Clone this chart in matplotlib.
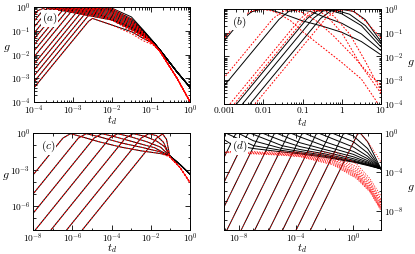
import numpy as np
import matplotlib
matplotlib.use('Agg')
import matplotlib.pyplot as plt
from matplotlib.ticker import FixedLocator, FixedFormatter, NullFormatter

plt.rcParams['mathtext.fontset'] = 'cm'
plt.rcParams['font.family'] = ['DejaVu Serif']

# All curve values are log10 exponents.

# ---- panel (a) ----
a_start_x = -4.3
a_start_g = [-0.95, -1.2, -1.45, -1.7, -1.95, -2.2, -2.45, -2.7, -3.0, -3.25, -3.5, -3.75, -4.0]
a_knee_x = [-3.9, -3.78, -3.65, -3.53, -3.4, -3.28, -3.15, -3.03, -2.88, -2.76, -2.63, -2.6, -2.6]
a_knee_g = [-0.15, -0.16, -0.15, -0.16, -0.15, -0.16, -0.15, -0.16, -0.16, -0.17, -0.16, -0.35, -0.6]
a_peak_x = [-3.7, -3.58, -3.45, -3.33, -3.2, -3.08, -2.95, -2.83, -2.68, -2.55, -2.3, -2.4, -2.5]
a_peak_g = [-0.02, -0.02, -0.02, -0.02, -0.02, -0.02, -0.02, -0.02, -0.03, -0.04, -0.04, -0.25, -0.48]
a_dec_x = [-2.0, -1.5, -1.2, -0.94]
a_dec_black = [
    [-0.55, -0.95, -1.22, -1.47], [-0.5, -0.9, -1.2, -1.47], [-0.45, -0.85, -1.18, -1.47],
    [-0.4, -0.8, -1.15, -1.47], [-0.35, -0.75, -1.12, -1.48], [-0.3, -0.7, -1.09, -1.48],
    [-0.25, -0.65, -1.06, -1.48], [-0.2, -0.6, -1.03, -1.48], [-0.15, -0.55, -1.0, -1.47],
    [-0.1, -0.5, -0.98, -1.47], [-0.05, -0.42, -0.97, -1.46], [-0.55, -0.85, -1.15, -1.5],
    [-0.76, -1.04, -1.32, -1.53]]
a_dec_red = [
    [-0.55, -1.03, -1.32, -1.56], [-0.5, -0.98, -1.3, -1.56], [-0.45, -0.93, -1.28, -1.56],
    [-0.4, -0.88, -1.25, -1.56], [-0.35, -0.83, -1.22, -1.57], [-0.3, -0.78, -1.19, -1.57],
    [-0.25, -0.73, -1.16, -1.57], [-0.2, -0.68, -1.13, -1.57], [-0.15, -0.63, -1.1, -1.56],
    [-0.1, -0.58, -1.08, -1.56], [-0.05, -0.5, -1.07, -1.55], [-0.55, -0.93, -1.25, -1.58],
    [-0.76, -1.12, -1.42, -1.6]]
a_tail_x = [-0.77, -0.34, 0.0]
a_tail_black = [-1.81, -2.72, -3.38]
a_tail_red = [-1.87, -2.98, -3.99]

# ---- panel (b) ----
b_black_x = [
    [-3.3, -2.55, -2.3, -2.05, -1.8, -1.5, -1.0, -0.5, 0.0, 0.5, 1.0],
    [-3.38, -1.6, -1.35, -1.1, -0.8, -0.5, 0.0, 0.5, 1.0],
    [-2.68, -0.88, -0.62, -0.35, 0.0, 0.5, 1.0],
    [-2.53, -0.73, -0.47, -0.2, 0.2, 0.6, 1.0],
    [-2.34, -0.54, -0.28, 0.0, 0.3, 0.6, 1.0]]
b_black_g = [
    [-1.95, -0.45, -0.12, -0.01, -0.04, -0.2, -0.5, -0.72, -0.98, -1.37, -1.93],
    [-4.0, -0.44, -0.1, -0.03, -0.1, -0.3, -0.6, -1.05, -1.75],
    [-4.0, -0.4, -0.08, -0.03, -0.2, -0.7, -1.6],
    [-4.0, -0.4, -0.08, -0.03, -0.22, -0.7, -1.47],
    [-4.0, -0.4, -0.08, -0.02, -0.1, -0.45, -1.38]]
b_red_x = [
    [-3.3, -2.6, -2.35, -2.1, -1.85, -1.62, -1.3, -1.0, -0.5, 0.0, 0.5, 0.85, 1.0],
    [-3.55, -1.75, -1.5, -1.25, -1.0, -0.6, -0.2, 0.3, 0.7, 1.0],
    [-2.85, -1.05, -0.8, -0.6, -0.35, 0.0, 0.5, 1.0],
    [-2.74, -0.94, -0.68, -0.45, -0.2, 0.2, 0.6, 1.0],
    [-2.21, -0.41, -0.15, 0.1, 0.3, 0.6, 1.0]]
b_red_g = [
    [-1.85, -0.45, -0.12, -0.02, -0.05, -0.18, -0.5, -0.95, -1.6, -2.25, -2.95, -3.8, -4.2],
    [-4.0, -0.4, -0.1, -0.03, -0.15, -0.55, -1.15, -2.0, -2.75, -3.2],
    [-4.0, -0.4, -0.08, -0.05, -0.35, -1.0, -2.4, -3.55],
    [-4.0, -0.4, -0.08, -0.04, -0.3, -1.05, -2.2, -3.45],
    [-4.0, -0.4, -0.08, -0.02, -0.1, -0.5, -1.22]]

# ---- panel (c) ----
c_start_x = [-10.79, -10.0, -9.2, -8.4, -7.6, -6.8, -6.0]
c_start_g = -9.0
c_knee_x = [-6.49, -5.7, -4.9, -4.1, -3.3, -2.5, -1.7]
c_knee_g = -0.4
c_peak_x = [-6.1, -5.3, -4.5, -3.7, -2.9, -2.1, -1.4]
c_peak_g = [-0.03, -0.03, -0.03, -0.03, -0.03, -0.03, -0.05]
c_dec_x = [[-5.5, -4.6, -3.5, -2.5, -1.5], [-4.6, -3.5, -2.5, -1.6], [-3.8, -2.8, -1.8],
           [-3.0, -2.2, -1.5], [-2.3, -1.7, -1.3], [-1.7, -1.35], [-1.2]]
c_dec_g = [[-0.3, -0.72, -1.15, -1.45, -1.68], [-0.3, -0.8, -1.15, -1.5], [-0.3, -0.75, -1.2],
           [-0.3, -0.7, -1.15], [-0.25, -0.65, -1.1], [-0.2, -0.75], [-0.5]]
c_tail_x = [-1.03, -0.5, 0.0]
c_tail_black = [-1.87, -2.6, -3.39]
c_tail_red = [-1.95, -2.85, -4.08]

# ---- panel (d) ----
d_start_x = [-13.42, -12.57, -11.72, -10.87, -10.02, -9.02, -8.02, -7.07, -6.07, -5.12, -4.17, -3.17]
d_start_g = -10.5
d_knee_x = [-9.95, -9.1, -8.25, -7.4, -6.55, -5.55, -4.55, -3.6, -2.6, -1.65, -0.7, 0.3]
d_knee_g = -0.1
d_peak_x = [-9.75, -8.9, -8.05, -7.2, -6.35, -5.35, -4.35, -3.4, -2.4, -1.45, -0.5, 0.5]
d_peak_g = -0.03
d_bcols = [-8.5, -7.0, -5.0, -3.74, -2.0, 0.0, 1.0]
d_black_dec = [
    [-1.2, -1.6, -1.95, -2.15, -2.5, -3.0, -3.35],
    [-0.3, -1.3, -1.8, -2.05, -2.4, -2.95, -3.3],
    [None, -0.8, -1.6, -1.9, -2.3, -2.9, -3.25],
    [None, None, -1.3, -1.7, -2.15, -2.8, -3.2],
    [None, None, -0.8, -1.4, -1.95, -2.65, -3.1],
    [None, None, None, -1.0, -1.7, -2.45, -3.0],
    [None, None, None, -0.4, -1.35, -2.2, -2.85],
    [None, None, None, None, -0.9, -1.9, -2.65],
    [None, None, None, None, None, -1.45, -2.4],
    [None, None, None, None, None, -0.9, -2.05],
    [None, None, None, None, None, -0.3, -1.6],
    [None, None, None, None, None, None, -0.9]]
d_black_end = [1.94, -3.7]
d_red_knee_x = [-10.55, -9.7, -8.85, -8.0, -7.15, -6.15, -5.15, -4.2, -3.2, -2.25, -1.3, 0.3]
d_red_knee_g = [-1.9, -1.9, -1.9, -1.9, -1.9, -1.9, -1.9, -1.9, -1.9, -1.9, -1.9, -0.1]
d_rcols = [-5.0, -3.74, -1.4, 0.23, 1.16, 1.94]
d_red_dec = [
    [-2.3, -2.45, -3.3, -4.7, -6.07, -8.0],
    [-2.25, -2.4, -3.2, -4.6, -5.98, -7.9],
    [-2.2, -2.35, -3.1, -4.5, -5.9, -7.8],
    [-2.15, -2.3, -3.0, -4.4, -5.8, -7.7],
    [-2.1, -2.25, -2.9, -4.3, -5.7, -7.6],
    [-2.0, -2.2, -2.8, -4.2, -5.6, -7.45],
    [None, -2.1, -2.7, -4.05, -5.45, -7.3],
    [None, -2.0, -2.55, -3.9, -5.3, -7.15],
    [None, None, -2.4, -3.7, -5.15, -7.0],
    [None, None, -2.2, -3.5, -4.95, -6.8],
    [None, None, None, -3.2, -4.7, -6.5],
    [None, None, None, None, -1.2, -3.0]]


BLACK = dict(color='black', lw=0.7, solid_capstyle='butt')
RED = dict(color='red', lw=0.7, linestyle=(0, (1.8, 1.6)))
RED_THIN = dict(color='red', lw=0.55, linestyle=(0, (1.5, 1.8)))


def curve(head_x, head_g, cols, vals, tail_x=(), tail_g=()):
    xs = list(head_x) + [c for c, v in zip(cols, vals) if v is not None] + list(tail_x)
    gs = list(head_g) + [v for v in vals if v is not None] + list(tail_g)
    return 10.0 ** np.array(xs), 10.0 ** np.array(gs)


def dress(ax, xlim, ylim, xmaj, xlab, ymaj, ylab, xminor, yminor, right=False):
    ax.set_xscale('log')
    ax.set_yscale('log')
    ax.set_xlim(*xlim)
    ax.set_ylim(*ylim)
    ax.xaxis.set_major_locator(FixedLocator(xmaj))
    ax.xaxis.set_major_formatter(FixedFormatter(xlab))
    ax.yaxis.set_major_locator(FixedLocator(ymaj))
    ax.yaxis.set_major_formatter(FixedFormatter(ylab))
    ax.xaxis.set_minor_locator(FixedLocator(xminor))
    ax.yaxis.set_minor_locator(FixedLocator(yminor))
    ax.xaxis.set_minor_formatter(NullFormatter())
    ax.yaxis.set_minor_formatter(NullFormatter())
    ax.tick_params(which='both', direction='in', top=True, right=True, width=0.6,
                   labelsize=6.8, pad=2)
    ax.tick_params(axis='x', which='major', pad=0.8)
    ax.tick_params(which='major', length=3.5)
    ax.tick_params(which='minor', length=1.8)
    if right:
        ax.yaxis.tick_right()
        ax.tick_params(which='both', left=True, right=True)
    for s in ax.spines.values():
        s.set_linewidth(0.7)
    # t_d label centred about 19 px below the bottom spine
    ax.set_xlabel(r'$t_d$', fontsize=8)
    ax.xaxis.label.set_va('center')
    ax.xaxis.set_label_coords(0.5, -19.0 / (ax.get_position().height * H))


def subs(lo, hi):
    return [m * 10.0 ** e for e in range(lo, hi) for m in range(2, 10)]


def decades(lo, hi, skip):
    return [10.0 ** e for e in range(lo, hi + 1) if e not in skip]


fig = plt.figure(figsize=(4.15, 2.54), dpi=100)
W, H = 415.0, 254.0


def axes_px(l, t, r, b):
    return fig.add_axes([l / W, 1 - b / H, (r - l) / W, (b - t) / H])


def label_panel(ax, txt, y):
    ax.text(0.05, y, txt, transform=ax.transAxes, fontsize=8, va='center',
            bbox=dict(facecolor='white', edgecolor='none', pad=0.4), zorder=5)


# ---- (a) ----
ax = axes_px(34, 7, 190, 102)
for k in range(len(a_start_g)):
    hx = [a_start_x, a_knee_x[k], a_peak_x[k]]
    hg = [a_start_g[k], a_knee_g[k], a_peak_g[k]]
    x, y = curve(hx, hg, a_dec_x, a_dec_black[k], a_tail_x, a_tail_black)
    ax.plot(x, y, **BLACK)
for k in range(len(a_start_g)):
    hx = [a_start_x, a_knee_x[k], a_peak_x[k]]
    hg = [a_start_g[k], a_knee_g[k], a_peak_g[k]]
    x, y = curve(hx, hg, a_dec_x, a_dec_red[k], a_tail_x, a_tail_red)
    ax.plot(x, y, **RED)
dress(ax, (1e-4, 1), (1e-4, 1),
      [1e-4, 1e-3, 1e-2, 1e-1, 1], [r'$10^{-4}$', r'$10^{-3}$', r'$10^{-2}$', r'$10^{-1}$', r'$10^{0}$'],
      [1e-4, 1e-3, 1e-2, 1e-1, 1], [r'$10^{-4}$', r'$10^{-3}$', r'$10^{-2}$', r'$10^{-1}$', r'$10^{0}$'],
      subs(-4, 0), subs(-4, 0))
ax.set_ylabel(r'$g$', fontsize=8.5, rotation=0)
ax.yaxis.set_label_coords(-0.175, 0.5)
label_panel(ax, r'$(a)$', 0.88)

# ---- (b) ----
ax = axes_px(224, 9, 381, 104)
for xs, gs in zip(b_black_x, b_black_g):
    ax.plot(10.0 ** np.array(xs), 10.0 ** np.array(gs), **BLACK)
for xs, gs in zip(b_red_x, b_red_g):
    ax.plot(10.0 ** np.array(xs), 10.0 ** np.array(gs), **RED)
dress(ax, (1e-3, 10), (1e-4, 1),
      [1e-3, 1e-2, 1e-1, 1, 10], [r'$0.001$', r'$0.01$', r'$0.1$', r'$1$', r'$10$'],
      [1e-4, 1e-3, 1e-2, 1e-1, 1], [r'$10^{-4}$', r'$10^{-3}$', r'$10^{-2}$', r'$10^{-1}$', r'$10^{0}$'],
      subs(-3, 1), subs(-4, 0), right=True)
ax.yaxis.set_label_position('right')
ax.set_ylabel(r'$g$', fontsize=8.5, rotation=0)
ax.yaxis.set_label_coords(1.19, 0.5)
label_panel(ax, r'$(b)$', 0.86)

# ---- (c) ----
ax = axes_px(33.3, 133.3, 190, 230)
for k in range(len(c_start_x)):
    hx = [c_start_x[k], c_knee_x[k], c_peak_x[k]]
    hg = [c_start_g, c_knee_g, c_peak_g[k]]
    x, y = curve(hx, hg, c_dec_x[k], c_dec_g[k], c_tail_x, c_tail_black)
    ax.plot(x, y, **BLACK)
for k in range(len(c_start_x)):
    hx = [c_start_x[k], c_knee_x[k], c_peak_x[k]]
    hg = [c_start_g, c_knee_g, c_peak_g[k]]
    x, y = curve(hx, hg, c_dec_x[k], c_dec_g[k], c_tail_x, c_tail_red)
    ax.plot(x, y, **RED)
dress(ax, (1e-8, 1), (1e-8, 1),
      [1e-8, 1e-6, 1e-4, 1e-2, 1], [r'$10^{-8}$', r'$10^{-6}$', r'$10^{-4}$', r'$10^{-2}$', r'$10^{0}$'],
      [1e-6, 1e-3, 1], [r'$10^{-6}$', r'$10^{-3}$', r'$10^{0}$'],
      decades(-8, 0, (-8, -6, -4, -2, 0)), decades(-8, 0, (-6, -3, 0)))
ax.set_ylabel(r'$g$', fontsize=8.5, rotation=0)
ax.yaxis.set_label_coords(-0.175, 0.5)
label_panel(ax, r'$(c)$', 0.86)

# ---- (d) ----
ax = axes_px(224, 133, 381, 230)
for k in range(len(d_start_x)):
    hx = [d_start_x[k], d_knee_x[k], d_peak_x[k]]
    hg = [d_start_g, d_knee_g, d_peak_g]
    x, y = curve(hx, hg, d_bcols, d_black_dec[k], [d_black_end[0]], [d_black_end[1]])
    ax.plot(x, y, **BLACK)
for k in range(len(d_start_x)):
    hx = [d_start_x[k], d_red_knee_x[k]]
    hg = [d_start_g, d_red_knee_g[k]]
    if d_red_knee_g[k] > -1.0:
        hx.append(d_peak_x[k])
        hg.append(d_peak_g)
    x, y = curve(hx, hg, d_rcols, d_red_dec[k])
    ax.plot(x, y, **RED_THIN)
dress(ax, (10 ** -9.06, 10 ** 1.94), (1e-10, 1),
      [1e-8, 1e-4, 1], [r'$10^{-8}$', r'$10^{-4}$', r'$10^{0}$'],
      [1e-8, 1e-4, 1], [r'$10^{-8}$', r'$10^{-4}$', r'$10^{0}$'],
      decades(-9, 1, (-8, -4, 0)), decades(-10, 0, (-8, -4, 0)), right=True)
ax.yaxis.set_label_position('right')
ax.set_ylabel(r'$g$', fontsize=8.5, rotation=0)
ax.yaxis.set_label_coords(1.19, 0.5)
label_panel(ax, r'$(d)$', 0.86)

fig.savefig('out.png', dpi=100)
